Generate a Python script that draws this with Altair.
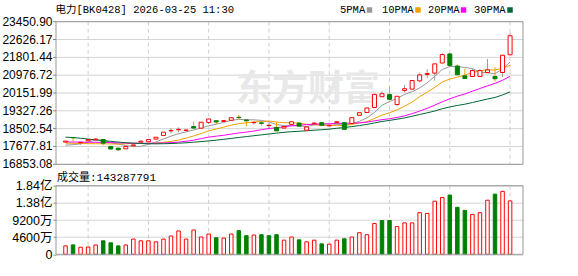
import altair as alt
import pandas as pd

# ---------------- data ----------------
dates = ["12-22", "12-23", "12-24", "12-25", "12-26", "12-29", "12-30", "12-31",
         "01-05", "01-06", "01-07", "01-08", "01-09", "01-12", "01-13", "01-14",
         "01-15", "01-16", "01-19", "01-20", "01-21", "01-22", "01-23", "01-26",
         "01-27", "01-28", "01-29", "01-30", "02-02", "02-03", "02-04", "02-05",
         "02-06", "02-09", "02-10", "02-11", "02-12", "02-13", "02-24", "02-25",
         "02-26", "02-27", "03-02", "03-03", "03-04", "03-05", "03-06", "03-09",
         "03-10", "03-11", "03-12", "03-13", "03-16", "03-17", "03-18", "03-19",
         "03-20", "03-23", "03-24", "03-25"]

opens = [17880, 18095, 17850, 17940, 17990, 18000, 17680, 17600, 17570, 17710,
         17880, 17895, 18020, 18190, 18400, 18450, 18420, 18600, 18525, 18790,
         18870, 18835, 18890, 19030, 18905, 18780, 18770, 18640, 18560, 18530,
         18700, 18760, 18430, 18730, 18780, 18630, 18790, 18780, 18740, 19120,
         19250, 19480, 19980, 20080, 19620, 20270, 20330, 20715, 21010, 21070,
         21540, 21960, 21400, 20945, 20915, 20920, 21100, 20915, 21100, 21920]
highs = [17935, 18100, 17910, 18010, 18060, 18010, 17690, 17610, 17685, 17760,
         17970, 18005, 18110, 18345, 18525, 18560, 18465, 18835, 18810, 18955,
         18880, 18880, 19015, 19135, 18910, 18835, 18860, 18760, 18790, 18610,
         18830, 18780, 18590, 18810, 18790, 18730, 18860, 18800, 19020, 19250,
         19470, 20100, 20240, 20430, 20010, 20530, 20750, 21100, 21255, 21520,
         21995, 21980, 21485, 21270, 21300, 21250, 21720, 21350, 21920, 22930]
lows = [17870, 17910, 17755, 17930, 17910, 17725, 17540, 17475, 17560, 17700,
        17830, 17890, 18010, 18185, 18280, 18330, 18372, 18520, 18520, 18710,
        18710, 18825, 18885, 18935, 18605, 18680, 18640, 18525, 18395, 18520,
        18690, 18600, 18410, 18700, 18650, 18610, 18730, 18460, 18730, 19110,
        19240, 19470, 19970, 19850, 19550, 20170, 20320, 20640, 20840, 20714,
        21520, 21410, 20980, 20810, 20900, 20900, 21080, 20680, 20880, 21900]
closes = [17925, 18080, 17870, 18000, 18020, 17830, 17560, 17525, 17675, 17750,
          17920, 18000, 18105, 18340, 18420, 18470, 18440, 18530, 18800, 18950,
          18810, 18875, 19010, 19010, 18865, 18790, 18750, 18660, 18400, 18600,
          18820, 18620, 18580, 18760, 18660, 18660, 18820, 18470, 19010, 19240,
          19460, 20090, 20120, 19860, 20000, 20350, 20730, 20990, 21050, 21500,
          21930, 21425, 20995, 20825, 21190, 21190, 21220, 20810, 21900, 22800]
volumes = [22600000, 25300000, 19000000, 19500000, 25000000, 36200000, 30800000, 22600000,
           25000000, 40800000, 36200000, 36200000, 33500000, 40800000, 49000000, 62600000,
           40800000, 65300000, 46300000, 54400000, 44400000, 43500000, 54400000, 63400000,
           49900000, 51700000, 52600000, 49900000, 52600000, 38000000, 46300000, 38900000,
           33500000, 37900000, 28000000, 27200000, 38000000, 41600000, 46300000, 58000000,
           52600000, 82500000, 90600000, 90600000, 74300000, 84300000, 84300000, 111600000,
           109700000, 142400000, 152400000, 158700000, 126000000, 117900000, 107000000, 111600000,
           145100000, 161400000, 168800000, 143287791]
# colour of each volume bar as seen in the picture (up = red outline, down = green)
vol_dir = ["up", "down", "up", "up", "up", "down", "down", "down", "up", "up",
           "up", "up", "up", "up", "up", "up", "up", "up", "up", "up",
           "down", "up", "up", "down", "down", "up", "down", "down", "down", "up",
           "up", "down", "up", "up", "down", "up", "up", "down", "up", "up",
           "up", "up", "down", "down", "up", "up", "up", "up", "up", "up",
           "up", "down", "down", "down", "up", "up", "up", "down", "up", "up"]

ma5 = [17740, 17760, 17800, 17880, 17979, 17960, 17856, 17787, 17722, 17668,
       17686, 17774, 17890, 18023, 18157, 18267, 18355, 18440, 18532, 18638,
       18706, 18793, 18889, 18931, 18914, 18910, 18885, 18815, 18693, 18640,
       18646, 18620, 18604, 18676, 18688, 18656, 18696, 18674, 18724, 18840,
       19000, 19254, 19584, 19754, 19906, 20084, 20212, 20386, 20624, 20924,
       21240, 21379, 21380, 21335, 21273, 21125, 21084, 21047, 21262, 21584]
ma10 = [17830, 17825, 17815, 17810, 17805, 17800, 17795, 17790, 17800, 17824,
        17823, 17815, 17839, 17873, 17913, 17977, 18065, 18165, 18278, 18398,
        18487, 18574, 18665, 18732, 18776, 18808, 18839, 18852, 18812, 18777,
        18778, 18753, 18710, 18685, 18664, 18651, 18658, 18639, 18700, 18764,
        18828, 18975, 19129, 19239, 19373, 19542, 19733, 19985, 20189, 20415,
        20662, 20796, 20883, 20980, 21099, 21183, 21232, 21214, 21299, 21429]
ma20 = [17890, 17885, 17880, 17875, 17870, 17865, 17855, 17845, 17835, 17830,
        17825, 17825, 17830, 17840, 17855, 17880, 17920, 17970, 18040, 18111,
        18155, 18195, 18252, 18302, 18344, 18392, 18452, 18509, 18545, 18587,
        18632, 18663, 18687, 18708, 18720, 18730, 18749, 18746, 18756, 18771,
        18803, 18864, 18919, 18962, 19019, 19097, 19196, 19312, 19445, 19590,
        19745, 19885, 20006, 20109, 20236, 20362, 20482, 20599, 20744, 20922]
ma30 = [18110, 18090, 18060, 18020, 17985, 17950, 17915, 17880, 17850, 17830,
        17815, 17805, 17800, 17805, 17815, 17830, 17850, 17875, 17905, 17935,
        17970, 18010, 18050, 18095, 18135, 18175, 18215, 18255, 18295, 18333,
        18363, 18381, 18404, 18430, 18451, 18479, 18521, 18552, 18597, 18646,
        18698, 18767, 18834, 18885, 18938, 19000, 19077, 19159, 19234, 19319,
        19423, 19508, 19574, 19634, 19712, 19792, 19874, 19946, 20063, 20203]

price_ticks = [16853.08, 17677.81, 18502.54, 19327.26, 20151.99, 20976.72, 21801.44, 22626.17, 23450.90]
vol_ticks = [0, 46000000, 92000000, 138000000, 184000000]
label_idx = [3, 11, 19, 27, 35, 43, 51, 59]
title_text = "电力[BK0428] 2026-03-25 11:30"
vol_title = "成交量:143287791"
watermark = "东方财富"
ma_keys = ["MA5", "MA10", "MA20", "MA30"]
legend_names = ["5PMA", "10PMA", "20PMA", "30PMA"]
ma_colors = ["#999999", "#f2a100", "#ff00ff", "#006633"]

# ---------------- layout constants ----------------
W = 467.0
PH = 142.6
VT = 164.0
VB = 232.6
H = VB

n = len(dates)
df = pd.DataFrame({"i": list(range(n)), "date": dates, "open": opens, "high": highs,
                   "low": lows, "close": closes, "vol": volumes, "vdir": vol_dir})
df["dir"] = ["up" if c >= o else "down" for o, c in zip(opens, closes)]
ma_df = pd.DataFrame({"i": list(range(n)), "MA5": ma5, "MA10": ma10, "MA20": ma20, "MA30": ma30})
grid_df = pd.DataFrame({"i": label_idx})
pt_df = pd.DataFrame({"v": price_ticks})
one = pd.DataFrame({"a": [0]})

xs = alt.Scale(domain=[-0.6, 60.05], nice=False, zero=False)
ps = alt.Scale(domain=[16853.08, 23450.90], range=[PH, 0], nice=False, zero=False)
vs = alt.Scale(domain=[0, 184000000], range=[VB, VT], nice=False)
stroke_s = alt.Scale(domain=["up", "down"], range=["#ff0000", "#008000"])
fill_s = alt.Scale(domain=["up", "down"], range=["#ffffff", "#008000"])
ma_s = alt.Scale(domain=ma_keys, range=ma_colors)

LBL_FONT = "Liberation Sans, Noto Sans CJK SC"
MONO = "Liberation Mono, Noto Sans CJK SC"
GRID = "#d4d4d4"

label_expr = "[" + ",".join("'%s'" % d for d in dates) + "][datum.value]"

# ---------------- price panel ----------------
hgrid_p = alt.Chart(pt_df).mark_rule(color=GRID, strokeWidth=1).encode(
    y=alt.Y("v:Q", scale=ps, axis=None), x=alt.value(0), x2=alt.value(W))

ptick = alt.Chart(pt_df).mark_rule(color="#888888", strokeWidth=1).encode(
    y=alt.Y("v:Q", scale=ps, axis=None), x=alt.value(-3), x2=alt.value(0))

plabel = alt.Chart(pt_df).mark_text(align="right", baseline="middle", font=LBL_FONT,
                                    fontSize=12, color="#000000").encode(
    y=alt.Y("v:Q", scale=ps, axis=None), x=alt.value(-3.5), text=alt.Text("v:Q", format=".2f"))

vgrid_p = alt.Chart(grid_df).mark_rule(color="#cfcfcf", strokeDash=[4, 3], strokeWidth=1).encode(
    x=alt.X("i:Q", scale=xs, axis=None), y=alt.value(0), y2=alt.value(PH))

wm = alt.Chart(pd.DataFrame({"t": [watermark]})).mark_text(
    font="Noto Sans CJK SC", fontSize=36, fontWeight="bold", color="#e8e8e8",
    align="center", baseline="middle").encode(x=alt.value(252), y=alt.value(68), text="t:N")

ma_lines = alt.Chart(ma_df).transform_fold(ma_keys, as_=["ma", "v"]).mark_line(
    strokeWidth=1).encode(
    x=alt.X("i:Q", scale=xs, axis=None),
    y=alt.Y("v:Q", scale=ps, axis=None),
    color=alt.Color("ma:N", scale=ma_s, legend=None),
    detail="ma:N")

wicks = alt.Chart(df).mark_rule(strokeWidth=1).encode(
    x=alt.X("i:Q", scale=xs, axis=None),
    y=alt.Y("low:Q", scale=ps, axis=None),
    y2="high:Q",
    color=alt.Color("dir:N", scale=stroke_s, legend=None))

bodies = alt.Chart(df).mark_bar(width=4, strokeWidth=1).encode(
    x=alt.X("i:Q", scale=xs, axis=None),
    y=alt.Y("open:Q", scale=ps, axis=None, stack=None),
    y2="close:Q",
    fill=alt.Fill("dir:N", scale=fill_s, legend=None),
    stroke=alt.Stroke("dir:N", scale=stroke_s, legend=None))

frame_p = alt.Chart(one).mark_rect(fill="transparent", stroke="#999999", strokeWidth=1).encode(
    x=alt.value(0), x2=alt.value(W), y=alt.value(0), y2=alt.value(PH))

price_layer = alt.layer(hgrid_p, vgrid_p, wm, ma_lines, wicks, bodies, frame_p, ptick, plabel)

# ---------------- volume panel ----------------
vgrid_v = alt.Chart(grid_df).mark_rule(color="#cfcfcf", strokeDash=[4, 3], strokeWidth=1).encode(
    x=alt.X("i:Q", scale=xs, axis=None), y=alt.value(VT), y2=alt.value(VB))

vol_bars = alt.Chart(df).mark_bar(width=3.5, strokeWidth=1).encode(
    x=alt.X("i:Q", scale=xs, axis=alt.Axis(
        values=label_idx, labelExpr=label_expr, orient="bottom", grid=False, ticks=False,
        domain=False, labelColor="#ff0000", labelFont="Liberation Mono", labelFontSize=11,
        labelPadding=7, title=None, labelFlush=False, labelOverlap=False)),
    y=alt.Y("vol:Q", scale=vs, stack=None, axis=alt.Axis(
        values=vol_ticks, orient="left", grid=True, gridColor=GRID, domain=False,
        tickColor="#888888", tickSize=3, labelFont=LBL_FONT, labelFontSize=12.5,
        labelColor="#000000", labelPadding=1, title=None, labelOverlap=False,
        labelExpr="datum.value == 0 ? '0' : (datum.value >= 100000000 ? format(datum.value / 100000000, '.2f') + '亿' : format(datum.value / 10000, 'd') + '万')")),
    y2=alt.datum(0),
    fill=alt.Fill("vdir:N", scale=fill_s, legend=None),
    stroke=alt.Stroke("vdir:N", scale=stroke_s, legend=None))

frame_v = alt.Chart(one).mark_rect(fill="transparent", stroke="#999999", strokeWidth=1).encode(
    x=alt.value(0), x2=alt.value(W), y=alt.value(VT), y2=alt.value(VB))

vol_layer = alt.layer(vgrid_v, vol_bars, frame_v)

# ---------------- texts ----------------
title = alt.Chart(pd.DataFrame({"t": [title_text]})).mark_text(
    align="left", baseline="middle", font=MONO, fontSize=10.5, color="#000000").encode(
    x=alt.value(-0.5), y=alt.value(-11.7), text="t:N")

vtitle = alt.Chart(pd.DataFrame({"t": [vol_title]})).mark_text(
    align="left", baseline="middle", font=MONO, fontSize=11, color="#000000").encode(
    x=alt.value(1), y=alt.value(155.8), text="t:N")

legend_text_x = [284, 326, 372, 418]
legend_sq_x = [313.5, 362, 407.5, 454]
leg_layers = []
for name, col, tx, sx in zip(legend_names, ma_colors, legend_text_x, legend_sq_x):
    leg_layers.append(alt.Chart(pd.DataFrame({"t": [name]})).mark_text(
        align="left", baseline="middle", font="Liberation Mono", fontSize=10.5, color="#000000").encode(
        x=alt.value(tx), y=alt.value(-11.7), text="t:N"))
    leg_layers.append(alt.Chart(one).mark_square(size=30, color=col, opacity=1).encode(
        x=alt.value(sx), y=alt.value(-11.7)))

texts = alt.layer(title, vtitle, *leg_layers)

chart = alt.layer(price_layer, vol_layer, texts).resolve_scale(y="independent").resolve_axis(
    y="independent").properties(
    width=W, height=H,
    padding={"left": 56, "top": 21.7, "right": 55, "bottom": 21.7},
    autosize=alt.AutoSizeParams(type="none"),
    background="#ffffff").configure_view(strokeWidth=0)

chart.save("out.html", embed_options={"renderer": "svg", "actions": False})
